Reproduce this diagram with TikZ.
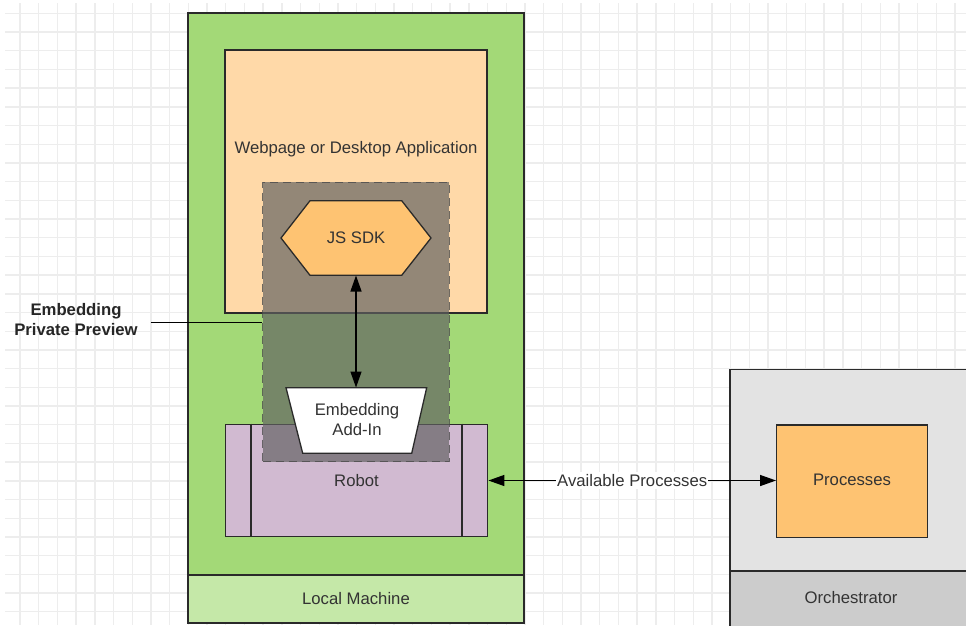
\documentclass[tikz,border=0pt]{standalone}
\usepackage{fontspec}
\setmainfont{Liberation Sans}
\usetikzlibrary{arrows.meta}
\definecolor{gridc}{HTML}{EDEDED}
\definecolor{lmgreen}{HTML}{A3D977}
\definecolor{lmband}{HTML}{C5E8A8}
\definecolor{peach}{HTML}{FFD9A8}
\definecolor{orangec}{HTML}{FEC372}
\definecolor{robotc}{HTML}{D1BAD1}
\definecolor{orchc}{HTML}{E3E3E3}
\definecolor{orchband}{HTML}{CCCCCC}
\definecolor{txtc}{HTML}{333333}
\definecolor{edgec}{HTML}{2A2A2A}
\tikzset{
  box/.style={draw=edgec, line width=1.3pt, rectangle, inner sep=0pt},
  lbl/.style={text=txtc, font=\fontsize{16.7}{20}\selectfont, inner sep=0pt, align=center},
  blbl/.style={text=black!85, font=\fontsize{16.7}{20}\selectfont\bfseries, inner sep=0pt, align=center},
  arr/.style={draw=black, line width=1.3pt, {Triangle[length=16pt,width=11pt]}-{Triangle[length=16pt,width=11pt]}},
  ghost/.style={rectangle, inner sep=0pt},
}
\begin{document}
\begin{tikzpicture}[x=1pt,y=-1pt]
\useasboundingbox (0,0) rectangle (966,625);
\clip (0,0) rectangle (966,625);
\fill[white] (0,0) rectangle (966,625);
% grid
\begin{scope}[draw=gridc, line width=1.4pt]
\foreach \i in {0,...,51} {\draw (20+18.7*\i,3) -- (20+18.7*\i,625);}
\foreach \j in {0,...,32} {\draw (5,13.3+18.7*\j) -- (966,13.3+18.7*\j);}
\end{scope}
% Local machine
\node[box, fill=lmgreen, minimum width=336pt, minimum height=562pt] (lm) at (356,294) {};
\node[box, fill=lmband, minimum width=336pt, minimum height=48pt] (lmband) at (356,599) {};
\node[lbl] (lmtxt) at (356,599) {Local Machine};
% Webpage
\node[box, fill=peach, minimum width=262pt, minimum height=263pt] (web) at (356,181.5) {};
\node[lbl] (webtxt) at (356,149) {Webpage or Desktop Application};
% Robot
\node[box, fill=robotc, minimum width=262.5pt, minimum height=112.4pt] (robot) at (356.5,480.5) {};
\draw[edgec, line width=1.3pt] ([xshift=26.5pt]robot.north west) -- ([xshift=26.5pt]robot.south west);
\draw[edgec, line width=1.3pt] ([xshift=-26.5pt]robot.north east) -- ([xshift=-26.5pt]robot.south east);
\node[lbl] (robottxt) at (356.5,480.5) {Robot};
% overlay
\node[ghost, fill=black!62, fill opacity=0.68, draw=black!70, draw opacity=0.8, dash pattern=on 8pt off 5pt, line width=1.2pt, minimum width=186.6pt, minimum height=279.4pt] (prev) at (356,322) {};
% JS SDK hexagon
\fill[orangec, draw=edgec, line width=1.3pt] (281,238) -- (310,200.7) -- (401.7,200.7) -- (431,238) -- (401.7,275.3) -- (310,275.3) -- cycle;
\node[ghost, lbl, minimum width=150pt, minimum height=74.6pt] (sdk) at (356,238) {JS SDK};
% Add-In trapezoid
\fill[white, draw=edgec, line width=1.3pt] (286,387.7) -- (426.7,387.7) -- (411.7,453.3) -- (302.7,453.3) -- cycle;
\node[ghost, minimum width=140pt, minimum height=65.6pt] (addin) at (356,420.5) {};
\node[lbl] (addintxt) at (357,419.5) {Embedding\\Add-In};
\draw[arr] (sdk.south) -- (addin.north);
% Embedding private preview
\node[blbl] (eppt) at (76,319.5) {Embedding\\Private Preview};
\coordinate (eppend) at (150.5,322.5);
\draw[black, line width=1.3pt] (eppend) -- (prev.west |- eppend);
% Orchestrator
\draw[fill=orchc, draw=edgec, line width=1.3pt] (730,369.3) rectangle (990,650);
\draw[fill=orchband, draw=edgec, line width=1.3pt] (730,571) rectangle (990,650);
\node[lbl] (orchtxt) at (851,598) {Orchestrator};
\node[box, fill=orangec, minimum width=150.6pt, minimum height=112.3pt] (proc) at (852,481.2) {};
\node[lbl] (proctxt) at (852,480) {Processes};
% Available processes arrow
\draw[arr] (robot.east) -- node[lbl, fill=white, inner xsep=1pt, inner ysep=2pt] (aptxt) {Available Processes} (robot.east -| proc.west);
\end{tikzpicture}
\end{document}
